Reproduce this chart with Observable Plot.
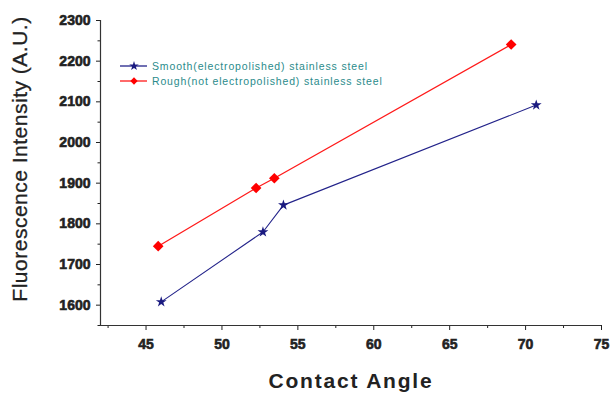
<!DOCTYPE html>
<html>
<head>
<meta charset="utf-8">
<script src="https://cdn.jsdelivr.net/npm/d3@7"></script>
<script src="https://cdn.jsdelivr.net/npm/@observablehq/plot@0.6"></script>
<style>
  html, body { margin: 0; padding: 0; background: #fff; }
  #wrap { position: relative; width: 611px; height: 397px; }
  #legend { position: absolute; left: 120px; top: 58px; font-family: "Liberation Sans", Arial, sans-serif; font-size: 10.5px; color: #2a8b8b; letter-spacing: 0.85px; }
  #legend .row { display: flex; align-items: center; height: 15px; }
  #legend svg { margin-right: 4px; }
</style>
</head>
<body>
<div id="wrap"></div>
<script>
// Data
const smoothAngle = [46.0, 52.7, 54.05, 70.7];
const smoothIntensity = [1608, 1780, 1846, 2092];
const roughAngle = [45.8, 52.25, 53.45, 69.05];
const roughIntensity = [1745, 1888, 1912, 2241];

const seriesNames = ["Smooth(electropolished) stainless steel", "Rough(not electropolished) stainless steel"];
const xTicks = [45, 50, 55, 60, 65, 70, 75];
const xMinorTicks = [42.5, 47.5, 52.5, 57.5, 62.5, 67.5, 72.5];
const yTicks = [1600, 1700, 1800, 1900, 2000, 2100, 2200, 2300];
const yMinorTicks = [1550, 1650, 1750, 1850, 1950, 2050, 2150, 2250];

const smooth = smoothAngle.map((a, i) => ({angle: a, intensity: smoothIntensity[i]}));
const rough = roughAngle.map((a, i) => ({angle: a, intensity: roughIntensity[i]}));

const blue = "#23238a";
const red = "#ff1a1a";
const font = '"Liberation Sans", Arial, sans-serif';

const chart = Plot.plot({
  width: 611,
  height: 397,
  marginLeft: 100,
  marginRight: 10,
  marginTop: 20,
  marginBottom: 72,
  style: {fontFamily: font, background: "#fff", color: "#222", overflow: "visible"},
  x: {domain: [42, 75]},
  y: {domain: [1550, 2300]},
  marks: [
    Plot.axisX({ticks: xTicks, tickFormat: d => String(d), tickSize: 5, tickPadding: 9,
      label: "Contact Angle", labelAnchor: "center", labelArrow: false, labelOffset: 62}),
    Plot.axisX({ticks: xMinorTicks, tickSize: 3, text: null, label: null}),
    Plot.axisY({ticks: yTicks, tickFormat: d => String(d), tickSize: 4, tickPadding: 6,
      label: "Fluorescence Intensity (A.U.)", labelAnchor: "center", labelArrow: false, labelOffset: 88}),
    Plot.axisY({ticks: yMinorTicks, tickSize: 2.5, text: null, label: null}),
    Plot.ruleX([42], {stroke: "#333", strokeWidth: 1.2}),
    Plot.ruleY([1550], {stroke: "#333", strokeWidth: 1.2}),
    Plot.line(rough, {x: "angle", y: "intensity", stroke: red, strokeWidth: 1.3}),
    Plot.line(smooth, {x: "angle", y: "intensity", stroke: blue, strokeWidth: 1.1}),
    Plot.dot(rough, {x: "angle", y: "intensity", symbol: "diamond2", fill: "#ff0000", r: 4.8}),
    Plot.dot(smooth, {x: "angle", y: "intensity", symbol: "star", fill: "#1a1a80", r: 3.4})
  ]
});

// style tick labels (numeric texts) and axis labels
d3.select(chart).selectAll("text")
  .filter(function() { return /^\d+$/.test(this.textContent.trim()); })
  .style("font-weight", "bold").style("font-size", "14px").style("fill", "#222")
  .style("stroke", "#222").style("stroke-width", "0.6px").style("paint-order", "stroke");
d3.select(chart).selectAll("text")
  .filter(function() { return this.textContent.trim() === "Contact Angle"; })
  .style("font-size", "21px").style("font-weight", "bold").style("letter-spacing", "1.8px").style("fill", "#222");
d3.select(chart).selectAll("text")
  .filter(function() { return this.textContent.trim().startsWith("Fluorescence"); })
  .style("font-size", "21px").style("font-weight", "normal").style("letter-spacing", "0.5px").style("fill", "#222")
  .style("stroke", "#222").style("stroke-width", "0.3px")
  .attr("dx", 14);

const wrap = document.getElementById("wrap");
wrap.appendChild(chart);

// Legend
const legend = d3.select(wrap).append("div").attr("id", "legend");
const entries = [
  {name: seriesNames[0], color: blue, fill: "#1a1a80", sym: d3.symbolStar, size: 28, rot: 0},
  {name: seriesNames[1], color: red, fill: "#ff0000", sym: d3.symbolSquare2, size: 34, rot: 45}
];
for (const e of entries) {
  const row = legend.append("div").attr("class", "row");
  const s = row.append("svg").attr("width", 28).attr("height", 12);
  s.append("line").attr("x1", 0).attr("x2", 27).attr("y1", 6).attr("y2", 6)
    .attr("stroke", e.color).attr("stroke-width", 1.3);
  s.append("path").attr("d", d3.symbol(e.sym, e.size)())
    .attr("fill", e.fill).attr("transform", `translate(14,6) rotate(${e.rot})`);
  row.append("span").text(e.name);
}
</script>
</body>
</html>
